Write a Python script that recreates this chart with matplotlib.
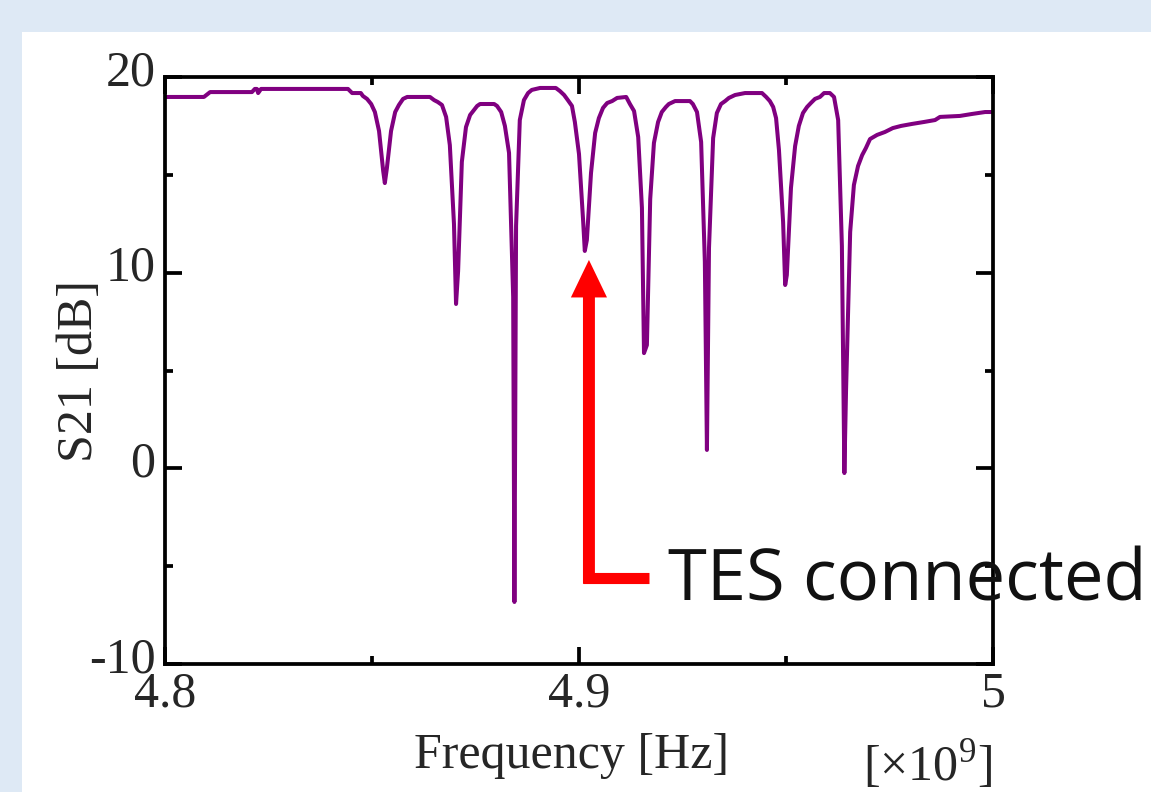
import matplotlib
matplotlib.use('Agg')
import matplotlib.pyplot as plt
from matplotlib.patches import Rectangle
from matplotlib.ticker import FixedLocator
from matplotlib.transforms import ScaledTranslation

plt.rcParams['font.family'] = ['Liberation Serif', 'DejaVu Serif']
plt.rcParams['mathtext.fontset'] = 'custom'
plt.rcParams['mathtext.rm'] = 'Liberation Serif'
plt.rcParams['axes.unicode_minus'] = False

# frequency [GHz] and S21 [dB]
freq = [4.8000, 4.8094, 4.8109, 4.8210, 4.8217, 4.8222, 4.8225, 4.8232, 4.8442, 4.8452,
        4.8473, 4.8478, 4.8488, 4.8498, 4.8507, 4.8517, 4.8527, 4.8531, 4.8536, 4.8546,
        4.8556, 4.8565, 4.8575, 4.8585, 4.8640, 4.8650, 4.8659, 4.8669, 4.8679, 4.8688,
        4.8698, 4.8703, 4.8708, 4.8717, 4.8727, 4.8737, 4.8754, 4.8761, 4.8795, 4.8802,
        4.8812, 4.8821, 4.8831, 4.8841, 4.8844, 4.8848, 4.8857, 4.8867, 4.8877, 4.8886,
        4.8906, 4.8944, 4.8954, 4.8964, 4.8973, 4.8983, 4.8990, 4.9000, 4.9010, 4.9014,
        4.9019, 4.9029, 4.9039, 4.9048, 4.9058, 4.9068, 4.9080, 4.9092, 4.9114, 4.9123,
        4.9133, 4.9143, 4.9152, 4.9157, 4.9164, 4.9172, 4.9181, 4.9191, 4.9200, 4.9210,
        4.9217, 4.9232, 4.9268, 4.9275, 4.9285, 4.9295, 4.9304, 4.9309, 4.9314, 4.9324,
        4.9333, 4.9343, 4.9353, 4.9362, 4.9377, 4.9401, 4.9442, 4.9452, 4.9461, 4.9469,
        4.9476, 4.9483, 4.9493, 4.9498, 4.9502, 4.9512, 4.9522, 4.9531, 4.9541, 4.9551,
        4.9560, 4.9570, 4.9582, 4.9592, 4.9606, 4.9616, 4.9626, 4.9635, 4.9641, 4.9645,
        4.9655, 4.9664, 4.9674, 4.9684, 4.9693, 4.9703, 4.9720, 4.9739, 4.9758, 4.9778,
        4.9804, 4.9833, 4.9860, 4.9872, 4.9920, 4.9949, 4.9981, 5.0000]
s21 = [18.98, 18.98, 19.23, 19.23, 19.39, 19.39, 19.18, 19.39, 19.39, 19.18,
       19.18, 19.03, 18.88, 18.62, 18.21, 17.24, 15.20, 14.58, 15.35, 17.24,
       18.21, 18.57, 18.88, 18.98, 18.98, 18.82, 18.72, 18.57, 17.96, 16.52,
       12.49, 8.40, 10.09, 15.66, 17.44, 18.06, 18.52, 18.62, 18.62, 18.52,
       18.21, 17.50, 16.12, 8.76, -6.83, 12.39, 17.80, 18.82, 19.18, 19.34,
       19.44, 19.44, 19.28, 19.08, 18.82, 18.52, 17.70, 16.06, 12.64, 11.11,
       11.67, 15.09, 17.14, 17.90, 18.42, 18.67, 18.77, 18.93, 18.98, 18.62,
       18.26, 16.93, 13.31, 5.89, 6.30, 13.76, 16.63, 17.70, 18.21, 18.47,
       18.62, 18.77, 18.77, 18.62, 18.21, 16.68, 10.55, 0.94, 11.26, 16.88,
       18.16, 18.62, 18.77, 18.93, 19.08, 19.18, 19.18, 18.98, 18.77, 18.47,
       17.90, 16.27, 12.59, 9.37, 9.88, 14.33, 16.47, 17.50, 18.16, 18.47,
       18.67, 18.88, 18.98, 19.18, 19.18, 18.98, 17.80, 11.36, -0.24, 3.95,
       12.08, 14.48, 15.45, 16.01, 16.37, 16.83, 17.04, 17.19, 17.39, 17.50,
       17.60, 17.70, 17.80, 17.96, 18.01, 18.11, 18.21, 18.21]

xticks = [4.8, 4.9, 5.0]
xtick_labels = ['4.8', '4.9', '5']
x_minor = [4.85, 4.95]
yticks = [-10, 0, 10, 20]
ytick_labels = ['-10', '0', '10', '20']
y_minor = [-5, 5, 15]

# annotation: red L-shaped arrow pointing at the TES resonance
arrow_x = 4.9024
arrow_tail = -5.9
arrow_tip = 10.65
leg_x = [4.9169, 4.9010]
leg_y = [-5.6, -5.6]

W, H = 1151, 792
fig = plt.figure(figsize=(W / 100, H / 100), dpi=100, facecolor='#dee9f5')
fig.add_artist(Rectangle((22 / W, 0), 1, 760 / H, transform=fig.transFigure,
                         facecolor='white', edgecolor='none', zorder=-1))

ax = fig.add_axes([165 / W, 1 - 664 / H, 828 / W, 587 / H])
ax.plot(freq, s21, color='#800080', lw=2.9)
ax.set_xlim(4.8, 5.0)
ax.set_ylim(-10, 20)

ax.set_xticks(xticks)
ax.set_xticklabels(xtick_labels)
ax.set_yticks(yticks)
ax.set_yticklabels(ytick_labels)
ax.xaxis.set_minor_locator(FixedLocator(x_minor))
ax.yaxis.set_minor_locator(FixedLocator(y_minor))
ax.tick_params(which='both', direction='in', top=True, right=True,
               width=2.7, color='black', labelsize=36, labelcolor='#262626')
ax.tick_params(which='major', length=12)
ax.tick_params(which='minor', length=6)
ax.tick_params(axis='x', pad=5)
ax.tick_params(axis='y', pad=7)
for sp in ax.spines.values():
    sp.set_linewidth(2.7)

# y tick labels sit a little above their ticks in the original
up = ScaledTranslation(0, 7 / 72, fig.dpi_scale_trans)
for lab in ax.get_yticklabels():
    lab.set_transform(lab.get_transform() + up)

# arrow
ax.plot(leg_x, leg_y, color='red', lw=8, solid_capstyle='butt')
ax.annotate('', xy=(arrow_x, arrow_tip), xytext=(arrow_x, arrow_tail),
            arrowprops=dict(width=8.6, headwidth=26, headlength=27, shrink=0,
                            color='red', lw=0))
ax.text(4.9215, -6.78, 'TES connected', fontsize=50.8, family=['Open Sans', 'DejaVu Sans'],
        color='#111111', ha='left', va='baseline', clip_on=False, zorder=10)

fig.text(80 / W, 1 - 370.5 / H, 'S21 [dB]', rotation=90, ha='center', va='center',
         fontsize=36, color='#262626')
fig.text(571.5 / W, 1 - 768 / H, 'Frequency [Hz]', ha='center', va='baseline',
         fontsize=36, color='#262626')
fig.text(863 / W, 1 - 781 / H, '[×10$^{9}$]', ha='left', va='baseline',
         fontsize=36, color='#262626')

plt.savefig('out.png', dpi=100, facecolor=fig.get_facecolor())
